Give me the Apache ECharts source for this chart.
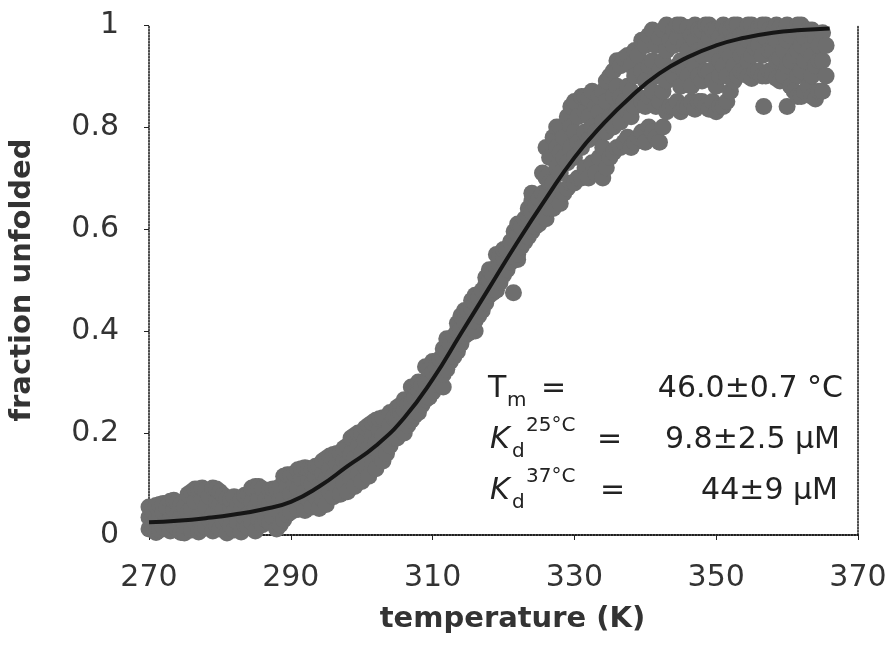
<!DOCTYPE html>
<html>
<head>
<meta charset="utf-8">
<script src="https://cdn.jsdelivr.net/npm/echarts@6/dist/echarts.min.js"></script>
<style>
html,body{margin:0;padding:0;background:#fff;}
#chart{width:893px;height:647px;}
</style>
</head>
<body>
<div id="chart"></div>
<script>
// x-axis tick labels (K) and y-axis tick labels
const xTicks = [270, 290, 310, 330, 350, 370];
const yTicks = [0, 0.2, 0.4, 0.6, 0.8, 1];

// fitted curve: temperature (K) and fraction unfolded
const fitTemp = [270, 274, 278, 282, 286, 290, 294, 298, 302, 306, 310, 314, 318, 322, 326, 330, 334, 338, 342, 346, 350, 354, 358, 362, 366];
const fitFrac = [0.025, 0.028, 0.033, 0.040, 0.050, 0.065, 0.095, 0.135, 0.175, 0.230, 0.305, 0.395, 0.485, 0.575, 0.660, 0.740, 0.805, 0.860, 0.905, 0.937, 0.960, 0.975, 0.985, 0.990, 0.993];

// observed points, low-temperature baseline: [T, fractions...]
const obsLow = [
  [270, 0.012, 0.035, 0.055], [270.5, 0.020, 0.048], [271, 0.005, 0.028, 0.058], [271.5, 0.010, 0.040, 0.060],
  [272, 0.015, 0.045, 0.062], [272.5, 0.025, 0.055], [273, 0.008, 0.030, 0.066], [273.5, 0.018, 0.050, 0.068],
  [274, 0.012, 0.040, 0.064], [274.5, 0.005, 0.035, 0.060], [275, 0.004, 0.025, 0.055], [275.5, 0.015, 0.045, 0.080],
  [276, 0.010, 0.050, 0.085], [276.5, 0.025, 0.065, 0.090], [277, 0.006, 0.035, 0.090], [277.5, 0.012, 0.070, 0.092],
  [278, 0.015, 0.055, 0.088], [278.5, 0.030, 0.075], [279, 0.008, 0.040, 0.092], [279.5, 0.020, 0.065, 0.090],
  [280, 0.012, 0.060, 0.085], [280.5, 0.025, 0.050, 0.078], [281, 0.004, 0.030, 0.072], [281.5, 0.018, 0.055, 0.070],
  [282, 0.010, 0.045, 0.075], [282.5, 0.025, 0.060], [283, 0.006, 0.050, 0.070], [283.5, 0.020, 0.035, 0.078],
  [284, 0.014, 0.040, 0.080], [284.5, 0.025, 0.065, 0.092], [285, 0.008, 0.055, 0.095], [285.5, 0.030, 0.070, 0.095],
  [286, 0.020, 0.045, 0.090], [286.5, 0.030, 0.070], [287, 0.025, 0.060, 0.088], [287.5, 0.035, 0.075, 0.090],
  [288, 0.012, 0.050, 0.090], [288.5, 0.020, 0.070, 0.095]
];
// observed points, onset of transition
const obsRise = [
  [289, 0.030, 0.070, 0.115], [289.5, 0.040, 0.095, 0.118], [290, 0.045, 0.080, 0.118], [290.5, 0.060, 0.100, 0.120],
  [291, 0.050, 0.090, 0.128], [291.5, 0.065, 0.110, 0.130], [292, 0.048, 0.085, 0.132], [292.5, 0.070, 0.105, 0.130],
  [293, 0.055, 0.100, 0.130], [293.5, 0.075, 0.115, 0.135], [294, 0.052, 0.095, 0.135], [294.5, 0.070, 0.120, 0.145],
  [295, 0.060, 0.110, 0.150], [295.5, 0.085, 0.130, 0.155], [296, 0.075, 0.115, 0.158], [296.5, 0.095, 0.140, 0.160],
  [297, 0.080, 0.125, 0.160], [297.5, 0.100, 0.145, 0.170], [298, 0.085, 0.140, 0.175], [298.5, 0.110, 0.160, 0.190],
  [299, 0.095, 0.150, 0.195], [299.5, 0.120, 0.175, 0.200], [300, 0.105, 0.160, 0.200], [300.5, 0.135, 0.185, 0.210],
  [301, 0.115, 0.170, 0.215], [301.5, 0.140, 0.195, 0.220], [302, 0.130, 0.180, 0.225], [302.5, 0.155, 0.205, 0.228],
  [303, 0.145, 0.195, 0.230], [303.5, 0.160]
];
// observed points, steep part of transition
const obsMid = [
  [304, 0.175, 0.215, 0.240], [304.5, 0.190, 0.230], [305, 0.190, 0.225, 0.250], [305.5, 0.205, 0.240, 0.255],
  [306, 0.200, 0.245, 0.265], [306.5, 0.215, 0.255], [307, 0.225, 0.260, 0.290], [307.5, 0.235, 0.270, 0.290],
  [308, 0.240, 0.285, 0.300], [308.5, 0.255, 0.295], [309, 0.265, 0.300, 0.330], [309.5, 0.270, 0.310, 0.325],
  [310, 0.280, 0.320, 0.340], [310.5, 0.295, 0.330], [311, 0.300, 0.345], [311.5, 0.290, 0.315, 0.350, 0.365],
  [312, 0.325, 0.360, 0.385], [312.5, 0.340, 0.375], [313, 0.350, 0.390], [313.5, 0.360, 0.400, 0.415],
  [314, 0.375, 0.405, 0.430], [314.5, 0.390, 0.420, 0.440], [315, 0.395, 0.440], [315.5, 0.405, 0.445, 0.460],
  [316, 0.400, 0.420, 0.455, 0.470], [316.5, 0.430, 0.465], [317, 0.440, 0.480], [317.5, 0.455, 0.490, 0.505],
  [318, 0.470, 0.500, 0.520], [318.5, 0.475, 0.510], [319, 0.480, 0.525, 0.550], [319.5, 0.495, 0.530, 0.545],
  [320, 0.510, 0.545, 0.560], [320.5, 0.520, 0.560], [321, 0.535, 0.575], [321.4, 0.475],
  [321.5, 0.545, 0.580, 0.595], [322, 0.540, 0.550, 0.590, 0.610], [322.5, 0.565, 0.605], [323, 0.575, 0.620],
  [323.5, 0.585, 0.625, 0.640], [324, 0.595, 0.635, 0.655, 0.670], [324.5, 0.605, 0.645], [325, 0.610, 0.660],
  [325.5, 0.625, 0.670, 0.710]
];
// observed points, approach to plateau
const obsUpper = [
  [326, 0.620, 0.665, 0.700, 0.760], [326.5, 0.640, 0.690, 0.740], [327, 0.640, 0.690, 0.780], [327.5, 0.660, 0.720, 0.760, 0.800],
  [328, 0.650, 0.710, 0.750, 0.800], [328.5, 0.670, 0.740, 0.780], [329, 0.680, 0.730, 0.820], [329.5, 0.690, 0.760, 0.800, 0.840],
  [330, 0.690, 0.740, 0.790, 0.850], [330.5, 0.700, 0.770, 0.820], [331, 0.700, 0.760, 0.860], [331.5, 0.720, 0.790, 0.830, 0.860],
  [332, 0.700, 0.775, 0.820, 0.855], [332.5, 0.730, 0.800, 0.870], [333, 0.710, 0.790, 0.840], [333.5, 0.740, 0.780, 0.830, 0.860],
  [334, 0.700, 0.760, 0.810, 0.870], [334.5, 0.720, 0.790, 0.850, 0.890], [335, 0.740, 0.820, 0.900], [335.5, 0.750, 0.800, 0.860, 0.910],
  [336, 0.760, 0.830, 0.880, 0.930], [336.5, 0.760, 0.810, 0.860, 0.920], [337, 0.770, 0.850, 0.935], [337.5, 0.780, 0.830, 0.880, 0.940],
  [338, 0.760, 0.820, 0.870, 0.920], [338.5, 0.770, 0.840, 0.900, 0.950], [339, 0.780, 0.860, 0.940], [339.5, 0.790, 0.850, 0.910, 0.970],
  [340, 0.770, 0.840, 0.890, 0.960], [340.5, 0.800, 0.860, 0.920, 0.980], [341, 0.790, 0.870, 0.930, 0.990], [341.5, 0.780, 0.840, 0.900, 0.960],
  [342, 0.770, 0.850, 0.910, 0.975], [342.5, 0.800, 0.870, 0.930, 0.990], [343, 0.830, 0.890, 0.950, 1.000], [343.5, 0.840, 0.910, 0.970],
  [344, 0.840, 0.900, 0.960, 0.990], [344.5, 0.850, 0.920, 0.975, 1.000], [345, 0.830, 0.880, 0.930, 1.000], [345.5, 0.840, 0.910, 0.960]
];
// observed points, unfolded plateau
const obsTop = [
  [346, 0.840, 0.900, 0.950, 0.995], [346.5, 0.850, 0.880, 0.930, 0.980], [347, 0.835, 0.920, 0.970, 1.000], [347.5, 0.850, 0.900, 0.950, 0.990],
  [348, 0.850, 0.890, 0.940, 0.990], [348.5, 0.840, 0.910, 0.960, 1.000], [349, 0.835, 0.910, 0.975, 1.000], [349.5, 0.850, 0.890, 0.940, 0.990],
  [350, 0.830, 0.880, 0.950, 0.990], [350.5, 0.840, 0.900, 0.930, 0.975], [351, 0.840, 0.920, 0.965, 1.000], [351.5, 0.850, 0.900, 0.950, 0.990],
  [352, 0.870, 0.940, 0.990], [352.5, 0.890, 0.920, 0.970, 1.000], [353, 0.900, 0.960, 1.000], [353.5, 0.910, 0.940, 0.980],
  [354, 0.905, 0.950, 0.985], [354.5, 0.900, 0.930, 0.970, 1.000], [355, 0.895, 0.940, 0.990, 1.000], [355.5, 0.910, 0.955, 0.985],
  [356, 0.910, 0.960, 0.995], [356.5, 0.900, 0.940, 0.980, 1.000], [356.7, 0.840], [357, 0.900, 0.975, 1.000],
  [357.5, 0.910, 0.950, 0.990], [358, 0.905, 0.950, 0.985], [358.5, 0.895, 0.930, 0.970, 1.000], [359, 0.890, 0.935, 0.995],
  [359.5, 0.900, 0.950, 0.985], [360, 0.840, 0.920, 0.970, 1.000], [360.5, 0.880, 0.930, 0.980], [361, 0.870, 0.940, 0.990],
  [361.5, 0.860, 0.900, 0.950, 1.000], [362, 0.860, 0.910, 0.960, 1.000], [362.5, 0.870, 0.930, 0.975], [363, 0.880, 0.950, 0.990],
  [363.5, 0.860, 0.900, 0.940, 0.990], [364, 0.855, 0.920, 0.975], [364.5, 0.870, 0.930, 0.960], [365, 0.870, 0.930, 0.985],
  [365.5, 0.900, 0.960]
];

// annotation texts
const annoRows = [
  { main: 'T', sub: 'm', sup: '', value: '46.0±0.7 °C' },
  { main: 'K', sub: 'd', sup: '25°C', value: '9.8±2.5 μM' },
  { main: 'K', sub: 'd', sup: '37°C', value: '44±9 μM' }
];

const xTitle = 'temperature (K)';
const yTitle = 'fraction unfolded';

const observed = [];
[obsLow, obsRise, obsMid, obsUpper, obsTop].forEach(group => {
  group.forEach(row => {
    for (let i = 1; i < row.length; i++) observed.push([row[0], row[i]]);
  });
});
const fitData = fitTemp.map((t, i) => [t, fitFrac[i]]);

const FONT = 'DejaVu Sans';
const frameLine = { show: true, lineStyle: { color: '#111', width: 1.5, type: 'dotted' } };

const chart = echarts.init(document.getElementById('chart'), null, { renderer: 'canvas' });

// annotation graphics
const rowY = [389, 440, 491];
const eqX = [541, 597, 600];
const valX = [843, 840, 838];
const graphics = [];
annoRows.forEach((r, i) => {
  const cy = rowY[i];
  const italic = r.main === 'K';
  graphics.push({ type: 'text', x: italic ? 490 : 488, y: cy, style: { text: r.main, font: (italic ? 'italic ' : '') + '30px ' + FONT, fill: '#222', align: 'left', verticalAlign: 'middle' } });
  graphics.push({ type: 'text', x: italic ? 512 : 507, y: cy + 12, style: { text: r.sub, font: '20px ' + FONT, fill: '#222', align: 'left', verticalAlign: 'middle' } });
  if (r.sup) graphics.push({ type: 'text', x: 526, y: cy - 14, style: { text: r.sup, font: '20px ' + FONT, fill: '#222', align: 'left', verticalAlign: 'middle' } });
  graphics.push({ type: 'text', x: eqX[i], y: cy, style: { text: '=', font: '30px ' + FONT, fill: '#222', align: 'left', verticalAlign: 'middle' } });
  graphics.push({ type: 'text', x: valX[i], y: cy, style: { text: r.value, font: '30px ' + FONT, fill: '#222', align: 'right', verticalAlign: 'middle' } });
});

chart.setOption({
  animation: false,
  backgroundColor: '#fff',
  grid: { left: 142, right: 35, top: 25, bottom: 112, containLabel: false },
  xAxis: [{
    type: 'value', min: xTicks[0], max: xTicks[xTicks.length - 1], interval: xTicks[1] - xTicks[0],
    position: 'bottom',
    axisLine: frameLine,
    axisTick: { show: true, inside: false, length: 5, lineStyle: { color: '#222', width: 1 } },
    axisLabel: { margin: 28, fontFamily: FONT, fontSize: 30, color: '#333' },
    splitLine: { show: false },
    name: xTitle, nameLocation: 'middle', nameGap: 70,
    nameTextStyle: { fontFamily: FONT, fontSize: 29, fontWeight: 'bold', color: '#333', padding: [0, 0, 0, 18] }
  }, {
    type: 'value', min: xTicks[0], max: xTicks[xTicks.length - 1], position: 'top',
    axisLine: frameLine, axisTick: { show: false }, axisLabel: { show: false }, splitLine: { show: false }
  }],
  yAxis: [{
    type: 'value', min: yTicks[0], max: yTicks[yTicks.length - 1], interval: yTicks[1] - yTicks[0],
    position: 'left',
    axisLine: frameLine,
    axisTick: { show: true, inside: false, length: 5, lineStyle: { color: '#222', width: 1 } },
    axisLabel: { margin: 30, fontFamily: FONT, fontSize: 30, color: '#333' },
    splitLine: { show: false },
    name: yTitle, nameLocation: 'middle', nameGap: 112, nameRotate: 90,
    nameTextStyle: { fontFamily: FONT, fontSize: 29, fontWeight: 'bold', color: '#333' }
  }, {
    type: 'value', min: yTicks[0], max: yTicks[yTicks.length - 1], position: 'right',
    axisLine: frameLine, axisTick: { show: false }, axisLabel: { show: false }, splitLine: { show: false }
  }],
  series: [{
    type: 'scatter', xAxisIndex: 0, yAxisIndex: 0,
    data: observed, symbol: 'circle', symbolSize: 17,
    itemStyle: { color: '#6e6e6e', opacity: 1 },
    clip: false, z: 2
  }, {
    type: 'line', xAxisIndex: 0, yAxisIndex: 0,
    data: fitData, smooth: true, showSymbol: false, symbol: 'none',
    lineStyle: { color: '#161616', width: 4 }, z: 3
  }],
  graphic: graphics
});
</script>
</body>
</html>
